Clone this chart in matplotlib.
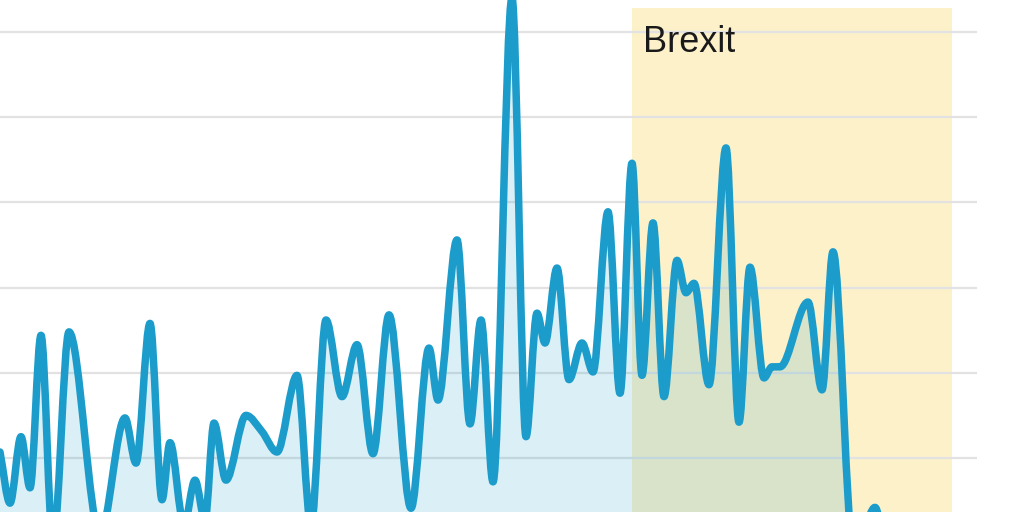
import numpy as np
import matplotlib
matplotlib.use("Agg")
import matplotlib.pyplot as plt
from matplotlib.path import Path
from matplotlib.patches import PathPatch

# values (x = position along the time axis, y = level)
x_pos = [0.0, 1.0, 2.1, 3.0, 4.1, 5.3, 6.9, 10.0, 12.5, 13.6, 15.0, 16.2, 17.0,
         18.4, 19.5, 20.5, 21.4, 22.6, 24.6, 26.2, 27.7, 29.7, 31.1, 32.6, 34.2,
         35.7, 37.3, 38.9, 41.1, 42.9, 43.8, 45.7, 47.0, 48.1, 49.3, 51.2, 52.6,
         53.7, 54.5, 55.7, 56.9, 58.2, 59.3, 60.8, 62.0, 63.2, 64.2, 65.3, 66.4,
         67.7, 68.6, 69.4, 70.9, 72.6, 73.9, 75.0, 76.4, 77.2, 78.0, 80.8, 82.2,
         83.3, 85.4, 87.5, 89.0]
level = [10.7, 4.7, 12.5, 6.5, 24.4, -0.2, 24.8, 1.0, 14.7, 9.4, 25.8, 5.1, 11.8,
         2.1, 7.4, 2.7, 14.1, 7.4, 15.0, 13.1, 10.7, 19.7, 2.1, 26.2, 17.2,
         23.3, 10.5, 26.8, 4.1, 22.9, 16.8, 35.6, 14.0, 26.2, 7.2, 64.0, 12.5,
         27.0, 23.5, 32.3, 19.2, 23.5, 20.1, 38.9, 17.6, 44.6, 19.7, 37.6, 17.2,
         33.2, 29.4, 30.5, 18.6, 46.4, 14.2, 32.4, 19.4, 20.7, 20.7, 28.3, 18.0,
         34.2, -2.0, 4.2, -6.7]

grid_levels = [10, 20, 30, 40, 50, 60]
brexit_start, brexit_end = 63.2, 95.2
brexit_label = "Brexit"

line_color = "#1c9cca"
span_color = "#fdf1ca"


def monotone_path(x, y):
    # smooth monotone cubic through the points (as d3 curveMonotoneX)
    x = np.asarray(x, float)
    y = np.asarray(y, float)
    h = np.diff(x)
    d = np.diff(y) / h
    m = np.zeros(len(x))
    m[0], m[-1] = d[0], d[-1]
    for i in range(1, len(x) - 1):
        if d[i - 1] * d[i] <= 0:
            m[i] = 0
        else:
            p = (d[i - 1] * h[i] + d[i] * h[i - 1]) / (h[i - 1] + h[i])
            m[i] = (np.sign(d[i - 1]) + np.sign(d[i])) * min(abs(d[i - 1]), abs(d[i]), 0.5 * abs(p))
    verts = [(x[0], y[0])]
    codes = [Path.MOVETO]
    for i in range(len(x) - 1):
        dx = h[i] / 3
        verts += [(x[i] + dx, y[i] + m[i] * dx),
                  (x[i + 1] - dx, y[i + 1] - m[i + 1] * dx),
                  (x[i + 1], y[i + 1])]
        codes += [Path.CURVE4] * 3
    return verts, codes


fig = plt.figure(figsize=(10.24, 5.12), dpi=100)
ax = fig.add_axes([0, 0, 977 / 1024, 1])
ax.set_xlim(0, 97.7)
ax.set_ylim(3.66, 63.76)
ax.axis("off")

ax.axvspan(brexit_start, brexit_end, ymin=0, ymax=0.984, color=span_color, lw=0, zorder=1)
for g in grid_levels:
    ax.axhline(g, color="#e2e2e2", lw=1.6, zorder=1.5)

verts, codes = monotone_path(x_pos, level)
fill_verts = verts + [(x_pos[-1], -20), (x_pos[0], -20), verts[0]]
fill_codes = codes + [Path.LINETO, Path.LINETO, Path.CLOSEPOLY]
ax.add_patch(PathPatch(Path(fill_verts, fill_codes), fc=line_color, alpha=0.16, lw=0, zorder=2))
ax.add_patch(PathPatch(Path(verts, codes), fill=False, ec=line_color, lw=5.4,
                       capstyle="round", joinstyle="round", zorder=3))

ax.text(brexit_start + 1.1, 57.65, brexit_label, fontsize=26, family="Liberation Sans",
        color="#1a1a1a", va="baseline", ha="left", zorder=4)

fig.savefig("out.png", dpi=100)
